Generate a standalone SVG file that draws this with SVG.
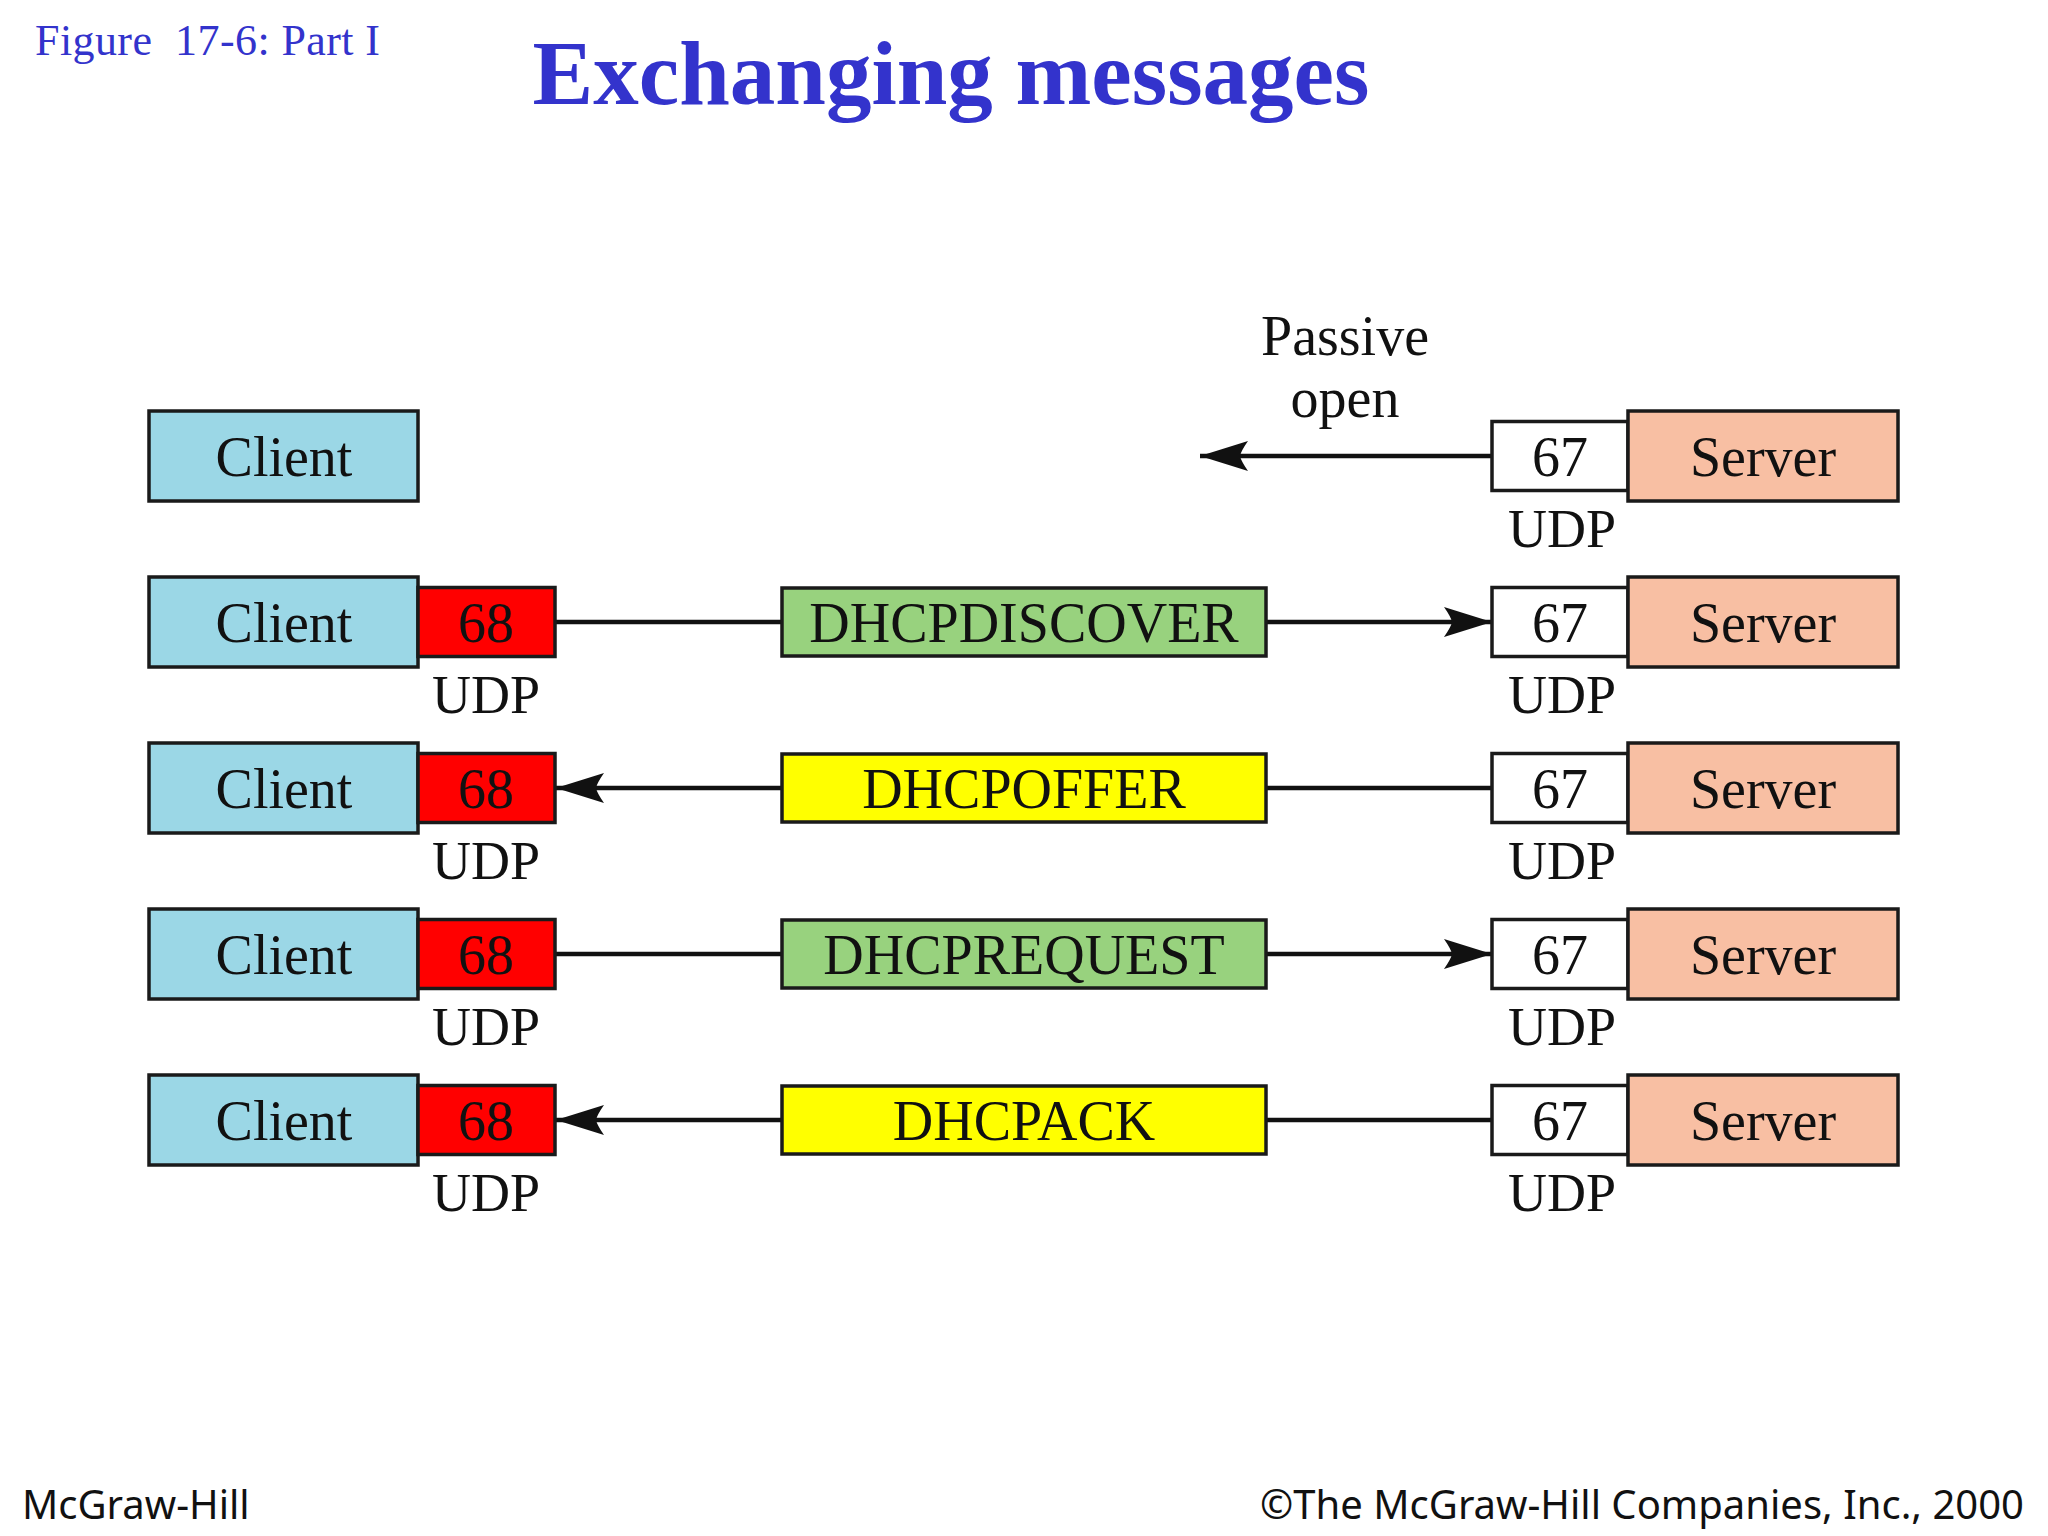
<svg xmlns="http://www.w3.org/2000/svg" width="2048" height="1536" viewBox="0 0 2048 1536">
<style>
.bx{stroke:#1a1a1a;stroke-width:3.5}
.client{fill:#9bd7e6}
.server{fill:#f8bfa3}
.p68{fill:#ff0000}
.p67{fill:#ffffff}
.green{fill:#98d27e}
.yellow{fill:#ffff00}
.t{font-family:"Liberation Serif","Times New Roman",serif;font-size:56px;fill:#111;text-anchor:middle}
.udp{font-family:"Liberation Serif","Times New Roman",serif;font-size:54px;fill:#111;text-anchor:middle}
.ln{stroke:#111;stroke-width:4.5;fill:none}
.foot{font-family:"Noto Sans","Open Sans",sans-serif;font-size:40px;fill:#111}
</style>
<defs>
<marker id="ah" markerUnits="userSpaceOnUse" markerWidth="54" markerHeight="36" viewBox="-52 -18 54 36" refX="0" refY="0" orient="auto">
<path d="M0,0 L-48,-15 Q-41,-5 -40,0 Q-41,5 -48,15 Z" fill="#111"/>
</marker>
</defs>
<rect width="2048" height="1536" fill="#ffffff"/>
<text x="35" y="55" font-family="Liberation Serif,'Times New Roman',serif" font-size="44" fill="#3333cc" textLength="345" xml:space="preserve">Figure  17-6: Part I</text>
<text x="951" y="104" font-family="Liberation Serif,'Times New Roman',serif" font-size="91" font-weight="bold" fill="#3333cc" text-anchor="middle">Exchanging messages</text>

<g id="connectors">
<line class="ln" x1="1492" y1="456" x2="1200" y2="456" marker-end="url(#ah)"/>
<line class="ln" x1="555" y1="622" x2="782" y2="622"/>
<line class="ln" x1="1266" y1="622" x2="1492" y2="622" marker-end="url(#ah)"/>
<line class="ln" x1="1492" y1="788" x2="1266" y2="788"/>
<line class="ln" x1="782" y1="788" x2="556" y2="788" marker-end="url(#ah)"/>
<line class="ln" x1="555" y1="954" x2="782" y2="954"/>
<line class="ln" x1="1266" y1="954" x2="1492" y2="954" marker-end="url(#ah)"/>
<line class="ln" x1="1492" y1="1120" x2="1266" y2="1120"/>
<line class="ln" x1="782" y1="1120" x2="556" y2="1120" marker-end="url(#ah)"/>
</g>

<g id="passive-open">
<text class="t" x="1345" y="355" font-size="55">Passive</text>
<text class="t" x="1345" y="417" font-size="55">open</text>
</g>

<!-- Row 0 -->
<g id="client0"><rect class="bx client" x="149" y="411" width="269" height="90"/><text class="t" x="284" y="476">Client</text></g>
<g id="port67-0"><rect class="bx p67" x="1492" y="421.5" width="136" height="69"/><text class="t" x="1560" y="476">67</text><text class="udp" x="1562" y="547">UDP</text></g>
<g id="server0"><rect class="bx server" x="1628" y="411" width="270" height="90"/><text class="t" x="1763" y="476">Server</text></g>

<!-- Row 1 -->
<g id="client1"><rect class="bx client" x="149" y="577" width="269" height="90"/><text class="t" x="284" y="642">Client</text></g>
<g id="port68-1"><rect class="bx p68" x="418" y="587.5" width="137" height="69"/><text class="t" x="486" y="642">68</text><text class="udp" x="486" y="713">UDP</text></g>
<g id="msg-discover"><rect class="bx green" x="782" y="588" width="484" height="68"/><text class="t" x="1024" y="642">DHCPDISCOVER</text></g>
<g id="port67-1"><rect class="bx p67" x="1492" y="587.5" width="136" height="69"/><text class="t" x="1560" y="642">67</text><text class="udp" x="1562" y="713">UDP</text></g>
<g id="server1"><rect class="bx server" x="1628" y="577" width="270" height="90"/><text class="t" x="1763" y="642">Server</text></g>

<!-- Row 2 -->
<g id="client2"><rect class="bx client" x="149" y="743" width="269" height="90"/><text class="t" x="284" y="808">Client</text></g>
<g id="port68-2"><rect class="bx p68" x="418" y="753.5" width="137" height="69"/><text class="t" x="486" y="808">68</text><text class="udp" x="486" y="879">UDP</text></g>
<g id="msg-offer"><rect class="bx yellow" x="782" y="754" width="484" height="68"/><text class="t" x="1024" y="808">DHCPOFFER</text></g>
<g id="port67-2"><rect class="bx p67" x="1492" y="753.5" width="136" height="69"/><text class="t" x="1560" y="808">67</text><text class="udp" x="1562" y="879">UDP</text></g>
<g id="server2"><rect class="bx server" x="1628" y="743" width="270" height="90"/><text class="t" x="1763" y="808">Server</text></g>

<!-- Row 3 -->
<g id="client3"><rect class="bx client" x="149" y="909" width="269" height="90"/><text class="t" x="284" y="974">Client</text></g>
<g id="port68-3"><rect class="bx p68" x="418" y="919.5" width="137" height="69"/><text class="t" x="486" y="974">68</text><text class="udp" x="486" y="1045">UDP</text></g>
<g id="msg-request"><rect class="bx green" x="782" y="920" width="484" height="68"/><text class="t" x="1024" y="974">DHCPREQUEST</text></g>
<g id="port67-3"><rect class="bx p67" x="1492" y="919.5" width="136" height="69"/><text class="t" x="1560" y="974">67</text><text class="udp" x="1562" y="1045">UDP</text></g>
<g id="server3"><rect class="bx server" x="1628" y="909" width="270" height="90"/><text class="t" x="1763" y="974">Server</text></g>

<!-- Row 4 -->
<g id="client4"><rect class="bx client" x="149" y="1075" width="269" height="90"/><text class="t" x="284" y="1140">Client</text></g>
<g id="port68-4"><rect class="bx p68" x="418" y="1085.5" width="137" height="69"/><text class="t" x="486" y="1140">68</text><text class="udp" x="486" y="1211">UDP</text></g>
<g id="msg-ack"><rect class="bx yellow" x="782" y="1086" width="484" height="68"/><text class="t" x="1024" y="1140">DHCPACK</text></g>
<g id="port67-4"><rect class="bx p67" x="1492" y="1085.5" width="136" height="69"/><text class="t" x="1560" y="1140">67</text><text class="udp" x="1562" y="1211">UDP</text></g>
<g id="server4"><rect class="bx server" x="1628" y="1075" width="270" height="90"/><text class="t" x="1763" y="1140">Server</text></g>

<text class="foot" x="22" y="1519">McGraw-Hill</text>
<text class="foot" x="2024" y="1519" text-anchor="end">©The McGraw-Hill Companies, Inc., 2000</text>
</svg>
